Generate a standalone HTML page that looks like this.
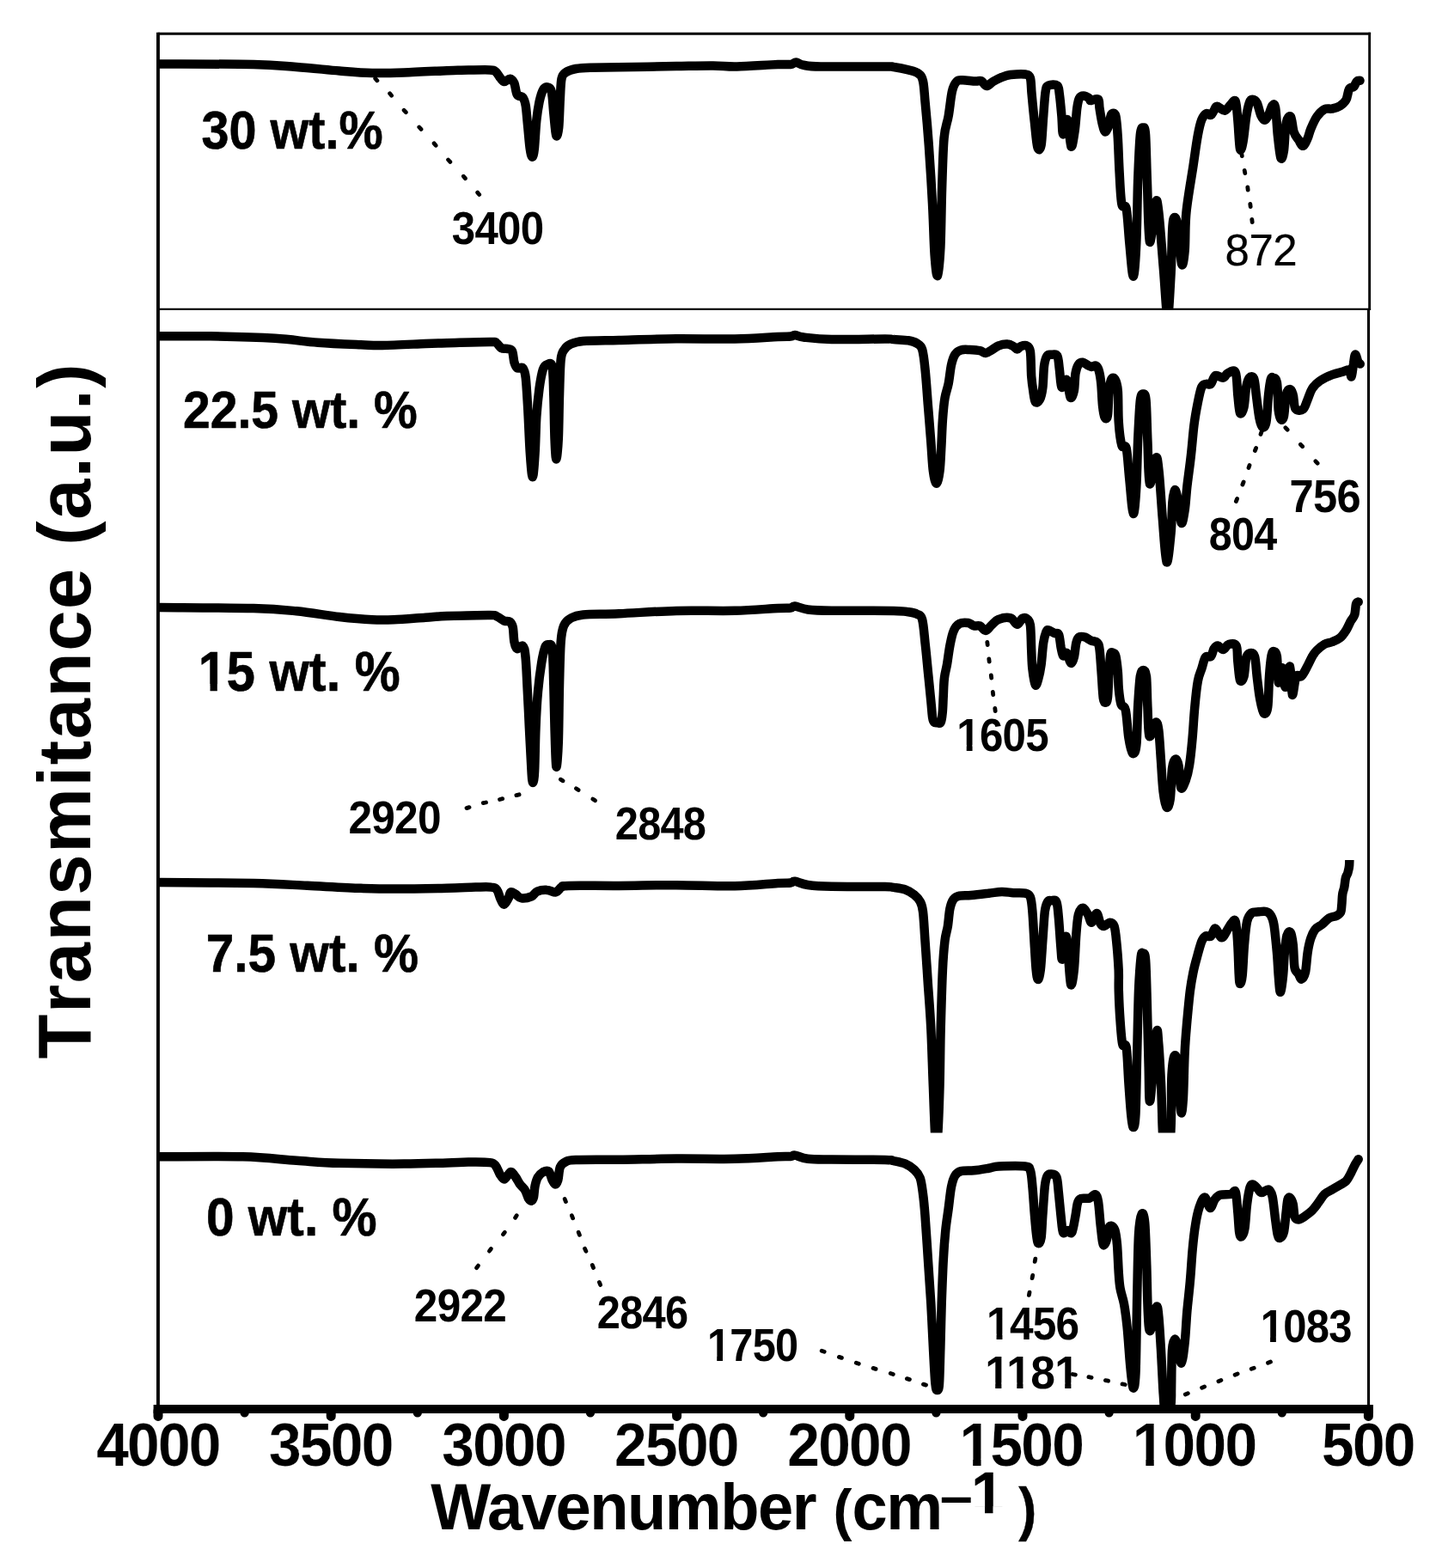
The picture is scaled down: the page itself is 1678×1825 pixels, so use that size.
<!DOCTYPE html>
<html lang="en"><head><meta charset="utf-8"><title>FTIR spectra</title>
<style>html,body{margin:0;padding:0;background:#fff}svg{display:block}text{font-family:"Liberation Sans",Arial,Helvetica,sans-serif;font-size:100px;fill:#000;white-space:pre}.b{font-weight:bold}</style></head><body>
<svg width="1678" height="1825" viewBox="0 0 1678 1825" role="img" aria-label="FTIR transmittance spectra for 0 to 30 wt.% samples">
<rect width="1678" height="1825" fill="#fff"/>
<defs>
<clipPath id="c1"><rect x="184" y="0" width="1678" height="359.5"/></clipPath>
<clipPath id="c2"><rect x="184" y="0" width="1678" height="1825"/></clipPath>
<clipPath id="c3"><rect x="184" y="0" width="1678" height="1825"/></clipPath>
<clipPath id="c4"><rect x="184" y="1001" width="1678" height="317.5999999999999"/></clipPath>
<clipPath id="c5"><rect x="184" y="0" width="1678" height="1638"/></clipPath>
</defs>
<g clip-path="url(#c1)"><path d="M186.0,74.5 C204.2,74.6 268.5,74.4 295.0,75.0 C321.5,75.6 328.3,76.8 345.0,78.0 C361.7,79.2 380.3,81.3 395.0,82.5 C409.7,83.7 420.5,84.7 433.0,85.0 C445.5,85.3 455.5,85.0 470.0,84.5 C484.5,84.0 508.9,82.7 520.0,82.2 C531.1,81.8 528.3,81.9 536.7,81.7 C545.0,81.6 563.4,81.1 570.1,81.4 C576.7,81.7 574.8,81.9 576.7,83.4 C578.7,84.8 580.1,88.1 581.7,90.1 C583.4,92.0 584.8,94.8 586.7,95.1 C588.7,95.3 591.5,91.5 593.4,91.7 C595.4,92.0 597.0,93.7 598.4,96.7 C599.8,99.8 600.1,107.3 601.8,110.1 C603.4,112.9 606.8,111.2 608.4,113.4 C610.1,115.6 610.8,117.6 611.8,123.4 C612.7,129.3 613.4,140.1 614.3,148.5 C615.1,156.8 615.9,167.8 616.8,173.5 C617.6,179.2 618.5,182.7 619.3,182.7 C620.1,182.7 621.0,180.6 621.8,173.5 C622.6,166.4 623.3,149.3 624.3,140.1 C625.3,130.9 626.4,124.3 627.6,118.4 C628.9,112.6 630.3,107.9 631.8,105.1 C633.3,102.2 635.1,101.1 636.8,101.4 C638.5,101.7 640.6,101.7 641.8,106.7 C643.1,111.8 643.4,123.3 644.3,131.8 C645.2,140.3 646.2,154.9 647.2,157.6 C648.1,160.4 649.4,155.6 650.2,148.5 C650.9,141.4 651.3,124.5 651.8,115.1 C652.4,105.6 652.4,96.9 653.5,91.7 C654.6,86.6 655.7,86.2 658.5,84.2 C661.3,82.3 665.5,81.0 670.2,80.0 C674.9,79.1 675.7,79.0 686.9,78.7 C698.0,78.4 720.2,78.3 736.9,78.0 C753.6,77.8 771.5,77.3 787.0,77.0 C802.5,76.8 818.2,76.4 830.0,76.5 C841.8,76.6 845.1,77.8 857.6,77.5 C870.1,77.2 894.6,75.4 905.0,75.0 C915.4,74.6 916.4,75.4 920.0,75.0 C923.6,74.6 923.9,72.4 926.4,72.5 C928.9,72.6 930.2,75.0 935.0,75.8 C939.8,76.6 939.2,77.2 955.0,77.5 C970.8,77.8 1015.8,77.4 1030.0,77.5 C1044.2,77.6 1035.5,77.4 1040.0,78.0 C1044.5,78.7 1052.2,80.2 1057.0,81.4 C1061.8,82.7 1066.1,83.6 1068.9,85.7 C1071.7,87.8 1072.7,88.8 1074.0,94.2 C1075.3,99.6 1075.4,105.5 1076.5,118.0 C1077.7,130.4 1079.4,149.1 1080.8,168.9 C1082.2,188.8 1083.9,215.7 1085.0,236.9 C1086.2,258.1 1086.6,282.3 1087.6,296.4 C1088.6,310.4 1089.8,322.4 1091.0,321.0 C1092.1,319.6 1093.5,304.7 1094.4,287.9 C1095.2,271.0 1095.4,241.1 1096.1,219.9 C1096.8,198.7 1097.3,174.6 1098.6,160.4 C1099.9,146.3 1102.2,144.0 1103.7,135.0 C1105.3,125.9 1106.4,112.7 1108.0,106.1 C1109.5,99.4 1111.1,97.1 1113.1,95.0 C1115.0,92.9 1116.2,93.4 1119.9,93.3 C1123.5,93.2 1131.5,94.4 1135.1,94.5 C1138.8,94.7 1139.8,93.2 1141.9,94.2 C1144.1,95.1 1145.6,100.0 1147.9,100.1 C1150.2,100.3 1152.6,96.7 1155.5,95.0 C1158.5,93.3 1162.3,91.3 1165.7,89.9 C1169.1,88.6 1171.4,87.6 1175.9,87.0 C1180.5,86.5 1189.1,85.9 1192.9,86.5 C1196.7,87.2 1197.6,87.0 1198.9,90.8 C1200.1,94.6 1199.7,100.7 1200.6,109.5 C1201.4,118.2 1202.8,133.1 1204.0,143.4 C1205.1,153.8 1206.1,167.2 1207.4,171.5 C1208.6,175.7 1210.5,175.0 1211.6,168.9 C1212.7,162.8 1213.3,145.4 1214.2,135.0 C1215.0,124.5 1215.7,112.0 1216.7,106.1 C1217.7,100.2 1217.8,100.7 1220.1,99.6 C1222.4,98.5 1228.2,98.0 1230.3,99.6 C1232.4,101.3 1232.0,103.6 1232.8,109.5 C1233.7,115.4 1234.7,127.2 1235.4,135.0 C1236.1,142.7 1236.0,155.5 1237.1,156.2 C1238.2,156.9 1240.6,136.8 1242.2,139.2 C1243.7,141.6 1245.0,168.5 1246.4,170.6 C1247.8,172.8 1249.5,159.3 1250.7,151.9 C1251.8,144.6 1252.4,132.7 1253.2,126.5 C1254.1,120.2 1254.5,117.1 1255.8,114.6 C1257.1,112.1 1258.9,111.5 1260.9,111.5 C1262.9,111.5 1266.3,113.6 1267.7,114.6 C1269.1,115.5 1267.7,117.0 1269.4,117.1 C1271.1,117.3 1276.2,113.9 1277.9,115.4 C1279.6,117.0 1278.7,121.5 1279.6,126.5 C1280.4,131.4 1281.8,140.6 1283.0,145.1 C1284.1,149.7 1285.1,153.6 1286.4,153.6 C1287.6,153.6 1289.5,148.5 1290.6,145.1 C1291.7,141.7 1291.9,135.0 1293.2,133.3 C1294.4,131.6 1297.0,130.4 1298.3,135.0 C1299.5,139.5 1300.1,149.3 1300.8,160.4 C1301.5,171.6 1301.9,189.1 1302.7,202.0 C1303.4,214.8 1304.0,230.9 1305.4,237.7 C1306.7,244.6 1309.2,235.6 1310.7,243.1 C1312.2,250.5 1313.0,269.3 1314.3,282.4 C1315.6,295.5 1317.4,321.8 1318.8,321.8 C1320.1,321.8 1321.5,300.9 1322.3,282.4 C1323.2,263.9 1323.4,231.8 1324.1,210.9 C1324.9,190.0 1325.8,167.6 1326.8,157.3 C1327.9,146.9 1329.4,148.7 1330.4,148.7 C1331.4,148.7 1332.3,146.9 1333.1,157.3 C1333.8,167.6 1334.1,190.2 1334.9,210.9 C1335.7,231.6 1336.3,277.4 1337.9,281.5 C1339.5,285.7 1343.0,241.7 1344.7,235.9 C1346.4,230.1 1346.8,234.4 1348.3,246.7 C1349.8,258.9 1351.9,289.0 1353.6,309.2 C1355.4,329.5 1357.2,366.7 1358.6,368.2 C1360.1,369.7 1361.6,335.5 1362.6,318.2 C1363.5,300.9 1363.6,275.4 1364.4,264.5 C1365.1,253.7 1366.0,252.9 1367.0,252.9 C1368.1,252.9 1369.3,255.5 1370.6,264.5 C1372.0,273.6 1373.7,303.0 1375.1,307.4 C1376.4,311.9 1377.8,301.5 1378.7,291.4 C1379.6,281.2 1378.8,263.1 1380.5,246.7 C1382.1,230.3 1386.3,207.9 1388.5,193.0 C1390.7,178.1 1392.2,166.2 1393.9,157.3 C1395.5,148.3 1396.7,143.6 1398.3,139.4 C1400.0,135.2 1401.9,133.1 1403.7,132.2 C1405.5,131.3 1407.6,134.6 1409.1,134.0 C1410.5,133.4 1411.4,130.4 1412.6,128.7 C1413.8,126.9 1414.1,123.7 1416.2,123.7 C1418.3,123.7 1422.5,129.0 1425.1,128.7 C1427.8,128.3 1430.2,123.3 1432.3,121.5 C1434.4,119.7 1436.3,115.0 1437.7,117.9 C1439.0,120.9 1439.5,130.2 1440.3,139.4 C1441.2,148.6 1442.0,169.2 1443.0,173.4 C1444.1,177.5 1445.4,170.7 1446.6,164.4 C1447.8,158.2 1449.0,143.3 1450.2,135.8 C1451.4,128.4 1452.6,123.1 1453.8,119.7 C1454.9,116.4 1455.8,115.8 1457.3,115.8 C1458.8,115.8 1461.1,116.7 1462.7,119.7 C1464.3,122.8 1465.7,130.7 1467.2,134.0 C1468.7,137.4 1470.1,139.7 1471.6,139.7 C1473.1,139.7 1474.6,136.8 1476.1,134.0 C1477.6,131.2 1479.2,124.4 1480.6,122.9 C1481.9,121.5 1483.1,119.4 1484.1,125.1 C1485.2,130.8 1485.8,147.5 1486.8,157.3 C1487.9,167.0 1489.2,180.8 1490.4,183.7 C1491.6,186.7 1492.9,181.9 1494.0,175.1 C1495.0,168.4 1495.3,149.5 1496.7,143.0 C1498.0,136.4 1500.5,134.0 1502.0,135.8 C1503.5,137.6 1504.1,149.2 1505.6,153.7 C1507.1,158.2 1509.2,160.0 1511.0,162.6 C1512.8,165.3 1514.5,170.1 1516.3,169.8 C1518.1,169.5 1520.2,164.1 1521.7,160.8 C1523.2,157.6 1523.5,154.3 1525.3,150.1 C1527.1,145.9 1529.7,139.6 1532.4,135.8 C1535.1,132.0 1538.4,128.8 1541.4,127.2 C1544.3,125.7 1547.3,127.2 1550.3,126.5 C1553.3,125.9 1556.6,125.0 1559.2,123.3 C1561.9,121.6 1564.6,119.4 1566.4,116.2 C1568.2,112.9 1568.5,106.2 1570.0,103.6 C1571.5,101.1 1573.8,102.4 1575.3,101.0 C1576.8,99.5 1577.7,95.9 1578.9,94.7 C1580.1,93.5 1581.9,94.0 1582.5,93.8" fill="none" stroke="#000" stroke-width="10.5" stroke-linejoin="round" stroke-linecap="round"/></g>
<g clip-path="url(#c2)"><path d="M186.0,391.3 C195.8,391.3 222.7,390.9 245.0,391.3 C267.3,391.7 299.2,392.6 320.0,393.8 C340.8,395.1 353.3,397.6 370.0,398.8 C386.7,400.1 407.5,400.8 420.0,401.3 C432.5,401.8 432.5,402.2 445.0,402.0 C457.5,401.8 482.5,400.5 495.0,400.0 C507.5,399.5 507.5,399.5 520.0,399.2 C532.5,398.9 560.5,398.0 570.1,398.0 C579.7,398.0 575.3,398.0 577.6,399.2 C579.8,400.4 581.3,403.9 583.4,405.1 C585.5,406.2 588.0,405.3 590.1,405.9 C592.2,406.4 594.5,405.7 595.9,408.4 C597.3,411.0 597.5,418.4 598.4,421.7 C599.4,425.1 600.1,427.3 601.8,428.4 C603.4,429.5 606.8,426.5 608.4,428.4 C610.1,430.4 610.8,432.0 611.8,440.1 C612.7,448.2 613.4,462.3 614.3,476.8 C615.1,491.3 615.9,513.8 616.8,526.9 C617.7,539.9 618.8,555.2 619.8,555.2 C620.8,555.2 621.9,538.5 622.6,526.9 C623.4,515.2 623.5,497.7 624.3,485.1 C625.1,472.6 626.4,461.0 627.6,451.8 C628.9,442.6 630.3,434.7 631.8,430.1 C633.3,425.5 635.0,424.8 636.8,424.2 C638.6,423.7 641.4,420.8 642.6,426.7 C643.9,432.7 643.8,446.2 644.3,460.1 C644.8,474.0 645.0,497.8 645.5,510.2 C646.0,522.6 646.6,534.4 647.3,534.4 C648.0,534.4 649.2,522.6 649.8,510.2 C650.4,497.8 650.5,475.4 651.0,460.1 C651.5,444.8 651.7,427.3 652.7,418.4 C653.6,409.5 655.0,409.6 656.8,406.7 C658.6,403.8 659.9,402.5 663.5,400.9 C667.1,399.3 669.1,397.9 678.5,397.0 C688.0,396.2 702.2,396.3 720.2,395.9 C738.3,395.4 764.5,394.4 787.0,394.2 C809.4,394.0 835.3,394.9 855.0,394.5 C874.7,394.1 894.2,392.5 905.0,392.0 C915.8,391.5 916.7,391.8 920.0,391.5 C923.3,391.2 922.5,389.8 925.0,390.0 C927.5,390.2 927.9,391.7 935.0,392.5 C942.1,393.3 951.9,394.7 967.7,395.0 C983.5,395.3 1018.0,394.5 1030.0,394.5 C1042.0,394.5 1035.5,394.8 1040.0,395.1 C1044.5,395.5 1052.5,395.6 1057.0,396.3 C1061.5,397.1 1064.5,398.0 1067.2,399.7 C1069.9,401.4 1071.6,401.6 1073.1,406.5 C1074.7,411.5 1075.4,418.6 1076.5,429.5 C1077.7,440.4 1078.8,457.8 1079.9,471.9 C1081.1,486.1 1082.3,501.7 1083.3,514.4 C1084.3,527.2 1084.8,540.3 1085.9,548.4 C1086.9,556.5 1088.5,562.8 1089.8,562.8 C1091.1,562.8 1092.6,555.1 1093.5,548.4 C1094.4,541.7 1094.7,532.8 1095.2,522.9 C1095.8,513.0 1096.2,498.8 1096.9,488.9 C1097.6,479.0 1098.3,470.5 1099.5,463.4 C1100.6,456.4 1102.4,453.0 1103.7,446.5 C1105.0,439.9 1105.8,430.0 1107.1,424.4 C1108.4,418.7 1109.5,415.3 1111.4,412.5 C1113.2,409.6 1115.3,408.3 1118.2,407.4 C1121.0,406.5 1124.7,406.9 1128.3,407.0 C1132.0,407.2 1137.1,407.5 1140.2,408.2 C1143.4,408.9 1144.8,411.3 1147.0,411.1 C1149.3,411.0 1151.3,408.9 1153.8,407.4 C1156.4,405.9 1159.2,403.4 1162.3,402.3 C1165.4,401.1 1169.7,400.4 1172.5,400.6 C1175.4,400.7 1177.5,402.1 1179.3,403.1 C1181.2,404.1 1182.2,406.5 1183.6,406.5 C1185.0,406.5 1186.0,403.8 1187.8,403.1 C1189.7,402.4 1192.8,401.3 1194.6,402.3 C1196.5,403.3 1197.9,403.1 1198.9,409.1 C1199.8,415.0 1199.7,430.3 1200.2,438.0 C1200.8,445.6 1201.5,450.0 1202.3,455.0 C1203.0,459.9 1203.5,466.0 1204.8,467.7 C1206.1,469.4 1208.5,467.8 1209.9,465.1 C1211.3,462.5 1212.5,458.1 1213.3,451.6 C1214.2,445.0 1214.2,432.3 1215.0,426.1 C1215.8,419.8 1217.0,416.4 1218.4,414.2 C1219.8,412.0 1221.5,412.8 1223.5,412.8 C1225.5,412.8 1228.7,411.4 1230.3,414.2 C1231.8,416.9 1232.0,423.4 1232.8,429.5 C1233.7,435.6 1234.0,448.6 1235.4,450.7 C1236.8,452.8 1239.6,440.2 1241.3,442.2 C1243.0,444.2 1244.2,460.5 1245.6,462.6 C1247.0,464.7 1248.8,459.6 1249.8,455.0 C1250.8,450.3 1250.7,439.7 1251.5,434.6 C1252.4,429.5 1253.5,426.5 1254.9,424.4 C1256.3,422.2 1258.2,421.7 1260.0,421.8 C1261.9,422.0 1264.3,424.4 1266.0,425.2 C1267.7,426.1 1268.7,426.8 1270.2,426.9 C1271.8,427.0 1273.9,425.0 1275.3,425.7 C1276.7,426.4 1277.7,427.7 1278.7,431.2 C1279.7,434.6 1280.6,439.7 1281.3,446.5 C1282.0,453.3 1282.3,465.4 1283.0,471.9 C1283.7,478.5 1284.5,483.6 1285.5,485.5 C1286.5,487.5 1288.1,488.9 1288.9,483.8 C1289.8,478.7 1289.9,462.0 1290.6,455.0 C1291.3,447.9 1292.0,443.6 1293.2,441.4 C1294.3,439.1 1296.1,439.1 1297.4,441.4 C1298.7,443.6 1300.1,446.6 1300.8,455.0 C1301.5,463.3 1301.0,481.0 1301.8,491.6 C1302.5,502.1 1303.9,513.3 1305.4,518.4 C1306.9,523.5 1309.2,515.4 1310.7,522.0 C1312.2,528.5 1313.0,545.1 1314.3,557.7 C1315.6,570.4 1317.4,596.5 1318.8,597.9 C1320.1,599.4 1321.5,580.8 1322.3,566.7 C1323.2,552.5 1323.4,529.7 1324.1,513.0 C1324.9,496.3 1325.8,475.6 1326.8,466.5 C1327.9,457.5 1329.3,458.5 1330.4,458.5 C1331.5,458.5 1332.8,457.5 1333.6,466.5 C1334.4,475.6 1334.7,496.9 1335.4,513.0 C1336.1,529.1 1336.3,559.8 1337.9,563.1 C1339.5,566.4 1343.3,535.1 1345.1,532.7 C1346.8,530.3 1347.3,537.2 1348.6,548.8 C1349.9,560.4 1351.3,584.8 1352.7,602.4 C1354.2,620.0 1355.9,651.3 1357.6,654.3 C1359.2,657.2 1361.4,631.9 1362.6,620.3 C1363.7,608.7 1363.6,592.9 1364.4,584.5 C1365.1,576.2 1366.0,570.8 1367.0,570.2 C1368.1,569.6 1369.3,574.6 1370.6,581.0 C1371.9,587.4 1373.4,606.6 1374.7,608.7 C1376.1,610.8 1377.6,600.5 1378.7,593.5 C1379.8,586.5 1380.2,577.1 1381.3,566.7 C1382.5,556.2 1384.5,542.8 1385.8,530.9 C1387.2,519.0 1388.1,505.6 1389.4,495.1 C1390.7,484.7 1392.4,475.8 1393.9,468.3 C1395.4,460.9 1396.7,454.0 1398.3,450.5 C1400.0,446.9 1401.9,447.5 1403.7,446.9 C1405.5,446.3 1407.3,448.5 1409.1,446.9 C1410.8,445.2 1412.0,438.2 1414.4,437.0 C1416.8,435.9 1421.0,440.2 1423.4,439.7 C1425.7,439.3 1426.3,435.4 1428.7,434.4 C1431.1,433.3 1435.7,429.3 1437.7,433.5 C1439.6,437.6 1439.5,451.5 1440.3,459.4 C1441.2,467.3 1441.8,478.5 1443.0,480.8 C1444.2,483.2 1446.3,478.8 1447.5,473.7 C1448.7,468.6 1449.1,456.1 1450.2,450.5 C1451.2,444.8 1452.3,441.4 1453.8,439.7 C1455.2,438.1 1457.8,437.3 1459.1,440.6 C1460.5,443.9 1460.8,451.8 1461.8,459.4 C1462.8,467.0 1464.2,480.0 1465.4,486.2 C1466.6,492.5 1467.6,496.0 1469.0,496.9 C1470.3,497.8 1472.2,497.8 1473.4,491.6 C1474.6,485.3 1475.2,467.7 1476.1,459.4 C1477.0,451.0 1477.9,444.8 1478.8,441.5 C1479.7,438.2 1480.3,439.1 1481.5,439.7 C1482.7,440.3 1484.9,438.8 1485.9,445.1 C1487.0,451.3 1487.0,470.1 1487.7,477.3 C1488.5,484.4 1489.4,486.8 1490.4,488.0 C1491.4,489.2 1492.9,489.2 1494.0,484.4 C1495.0,479.7 1495.5,464.6 1496.7,459.4 C1497.9,454.2 1499.8,453.1 1501.1,453.1 C1502.5,453.1 1503.7,455.7 1504.7,459.4 C1505.8,463.1 1505.5,472.7 1507.4,475.5 C1509.3,478.3 1513.9,478.2 1516.3,476.4 C1518.7,474.6 1519.9,468.8 1521.7,464.8 C1523.5,460.7 1524.7,455.8 1527.1,452.2 C1529.4,448.7 1532.1,446.0 1536.0,443.3 C1539.9,440.6 1545.8,437.9 1550.3,436.2 C1554.8,434.4 1559.5,433.5 1562.8,432.6 C1566.1,431.7 1568.3,429.8 1570.0,430.8 C1571.6,431.7 1571.8,439.5 1572.6,438.3 C1573.5,437.1 1574.2,427.9 1575.0,423.6 C1575.7,419.3 1576.2,413.0 1577.1,412.6 C1578.0,412.1 1579.4,419.1 1580.3,421.0 C1581.3,422.8 1582.4,423.2 1582.8,423.6" fill="none" stroke="#000" stroke-width="10.5" stroke-linejoin="round" stroke-linecap="round"/></g>
<g clip-path="url(#c3)"><path d="M186.0,707.0 C204.2,707.2 268.5,707.3 295.0,708.0 C321.5,708.7 328.3,709.6 345.0,711.3 C361.7,713.0 380.3,716.3 395.0,718.0 C409.7,719.7 422.5,720.8 433.0,721.3 C443.5,721.8 447.7,721.7 458.0,721.3 C468.3,720.9 484.7,719.5 495.0,718.8 C505.3,718.1 507.5,717.5 520.0,717.0 C532.5,716.6 560.3,715.8 570.1,715.9 C579.8,716.0 575.6,716.4 578.4,717.5 C581.2,718.7 584.2,721.5 586.7,722.6 C589.2,723.6 591.8,722.5 593.4,723.7 C595.1,725.0 595.9,726.2 596.8,730.1 C597.6,733.9 597.6,742.6 598.4,746.7 C599.3,750.9 600.1,754.3 601.8,755.1 C603.4,755.9 606.8,750.4 608.4,751.8 C610.1,753.1 610.6,755.9 611.4,763.4 C612.3,770.9 612.7,782.9 613.4,796.8 C614.2,810.7 615.1,830.2 615.9,846.9 C616.8,863.6 617.8,886.2 618.5,896.9 C619.1,907.6 619.5,911.1 620.1,911.1 C620.7,911.1 621.6,907.6 622.1,896.9 C622.7,886.2 622.8,862.2 623.5,846.9 C624.1,831.6 624.8,817.7 626.0,805.1 C627.1,792.6 628.7,780.4 630.1,771.8 C631.5,763.2 633.0,757.0 634.3,753.4 C635.6,749.9 636.8,750.1 638.1,750.4 C639.5,750.7 641.6,747.4 642.6,755.1 C643.7,762.8 643.8,781.5 644.3,796.8 C644.8,812.1 645.0,831.0 645.5,846.9 C646.0,862.8 646.6,889.5 647.3,892.3 C648.0,895.0 649.2,879.5 649.8,863.6 C650.4,847.6 650.5,816.3 651.0,796.8 C651.5,777.3 651.8,758.1 652.7,746.7 C653.5,735.3 654.2,732.8 656.0,728.4 C657.8,723.9 659.7,722.2 663.5,720.0 C667.3,717.9 669.1,716.3 678.5,715.4 C688.0,714.4 702.2,715.0 720.2,714.2 C738.3,713.5 764.5,711.4 787.0,710.9 C809.4,710.3 835.3,711.3 855.0,710.8 C874.7,710.3 894.2,708.5 905.0,708.0 C915.8,707.5 916.7,707.9 920.0,707.5 C923.3,707.1 921.7,705.2 925.0,705.5 C928.3,705.8 932.9,708.6 940.0,709.5 C947.1,710.4 951.0,710.6 967.7,710.8 C984.4,711.0 1025.1,710.7 1040.0,710.9 C1054.9,711.2 1052.5,711.6 1057.0,712.3 C1061.5,712.9 1064.5,713.4 1067.2,714.8 C1069.9,716.2 1071.6,715.3 1073.1,720.8 C1074.7,726.3 1075.4,737.8 1076.5,748.0 C1077.7,758.2 1078.8,770.6 1079.9,781.9 C1081.1,793.3 1082.4,807.0 1083.3,815.9 C1084.2,824.8 1084.5,831.3 1085.2,835.5 C1085.8,839.6 1086.3,839.8 1087.2,840.7 C1088.2,841.7 1089.7,841.2 1091.0,841.2 C1092.2,841.2 1093.7,842.7 1094.7,840.7 C1095.7,838.8 1096.2,834.8 1096.7,829.5 C1097.3,824.2 1097.4,815.9 1097.8,809.1 C1098.1,802.3 1098.2,794.7 1099.0,788.7 C1099.7,782.8 1100.9,779.7 1102.0,773.4 C1103.1,767.2 1104.1,757.9 1105.4,751.4 C1106.7,744.8 1107.8,738.6 1109.7,734.4 C1111.5,730.1 1113.6,727.4 1116.5,725.9 C1119.3,724.3 1123.8,724.6 1126.7,725.0 C1129.5,725.4 1131.2,727.9 1133.4,728.4 C1135.7,729.0 1138.0,727.5 1140.2,728.4 C1142.5,729.4 1144.8,734.2 1147.0,734.0 C1149.3,733.9 1151.3,729.8 1153.8,727.6 C1156.4,725.4 1158.6,722.1 1162.3,720.8 C1166.0,719.4 1172.4,718.4 1175.9,719.4 C1179.5,720.4 1181.3,726.6 1183.6,726.7 C1185.8,726.8 1187.7,721.1 1189.5,719.9 C1191.4,718.8 1193.1,718.7 1194.6,719.9 C1196.2,721.2 1197.9,721.5 1198.9,727.6 C1199.8,733.7 1199.8,748.0 1200.2,756.5 C1200.6,765.0 1200.6,771.7 1201.4,778.5 C1202.2,785.3 1203.7,795.3 1204.8,797.2 C1205.9,799.2 1207.1,794.4 1208.2,790.4 C1209.3,786.5 1210.6,780.5 1211.6,773.4 C1212.6,766.4 1213.2,754.3 1214.2,748.0 C1215.1,741.6 1216.6,737.6 1217.5,735.2 C1218.5,732.8 1218.5,733.2 1220.1,733.5 C1221.7,733.8 1224.9,736.1 1226.9,736.9 C1228.9,737.8 1230.7,735.9 1232.0,738.6 C1233.3,741.3 1233.7,749.0 1234.5,753.1 C1235.4,757.2 1236.0,762.1 1237.1,763.3 C1238.2,764.4 1239.9,758.4 1241.3,759.9 C1242.8,761.3 1244.5,770.9 1245.9,771.7 C1247.3,772.6 1248.8,768.9 1249.8,765.0 C1250.9,761.0 1251.4,751.9 1252.4,748.0 C1253.4,744.1 1254.1,742.6 1255.8,741.5 C1257.5,740.4 1260.3,740.9 1262.6,741.5 C1264.8,742.2 1267.0,744.3 1269.4,745.4 C1271.8,746.5 1275.3,746.1 1277.0,748.0 C1278.7,749.8 1278.8,750.8 1279.6,756.5 C1280.3,762.1 1280.9,772.6 1281.6,781.9 C1282.3,791.3 1283.0,806.6 1283.8,812.5 C1284.6,818.5 1285.5,817.6 1286.4,817.6 C1287.2,817.6 1288.2,818.5 1288.9,812.5 C1289.6,806.6 1290.0,790.4 1290.6,781.9 C1291.2,773.4 1291.6,765.2 1292.3,761.6 C1293.0,757.9 1293.9,759.6 1294.9,759.9 C1295.8,760.1 1297.3,759.6 1298.3,763.3 C1299.2,766.9 1300.2,775.6 1300.8,781.9 C1301.4,788.3 1301.2,795.3 1301.8,801.6 C1302.4,807.8 1303.1,815.3 1304.5,819.5 C1305.8,823.6 1308.3,820.0 1309.8,826.6 C1311.3,833.2 1312.1,850.4 1313.4,858.8 C1314.7,867.1 1316.4,875.2 1317.9,876.7 C1319.4,878.2 1321.3,876.7 1322.3,867.7 C1323.4,858.8 1323.4,836.4 1324.1,823.0 C1324.9,809.6 1325.8,794.4 1326.8,787.3 C1327.9,780.1 1329.2,780.1 1330.4,780.1 C1331.6,780.1 1333.1,780.1 1334.0,787.3 C1334.8,794.4 1334.8,811.4 1335.4,823.0 C1336.0,834.6 1336.0,854.0 1337.5,857.0 C1339.1,860.0 1342.9,842.1 1344.7,840.9 C1346.5,839.7 1347.2,842.4 1348.3,849.8 C1349.3,857.3 1350.1,873.7 1351.0,885.6 C1351.8,897.5 1352.5,912.4 1353.6,921.4 C1354.7,930.4 1356.2,938.1 1357.6,939.6 C1358.9,941.1 1360.6,937.8 1361.7,930.3 C1362.8,922.8 1363.0,902.3 1364.0,894.5 C1365.0,886.8 1366.3,884.4 1367.6,883.8 C1368.8,883.2 1370.4,885.5 1371.5,891.0 C1372.6,896.5 1372.9,913.9 1374.2,916.9 C1375.5,919.9 1377.9,913.2 1379.6,908.8 C1381.2,904.5 1382.7,899.3 1384.0,891.0 C1385.4,882.6 1386.6,870.1 1387.6,858.8 C1388.6,847.5 1389.2,834.1 1390.3,823.0 C1391.3,812.0 1392.5,800.1 1393.9,792.6 C1395.2,785.2 1396.8,782.9 1398.3,778.3 C1399.8,773.7 1401.0,767.3 1402.8,764.9 C1404.6,762.5 1407.4,765.7 1409.1,764.0 C1410.7,762.4 1411.3,757.2 1412.6,755.1 C1414.0,753.0 1415.3,751.4 1417.1,751.5 C1418.9,751.7 1421.3,756.2 1423.4,756.0 C1425.4,755.7 1427.1,750.8 1429.6,750.1 C1432.2,749.3 1436.8,748.3 1438.6,751.5 C1440.3,754.7 1439.6,762.7 1440.3,769.4 C1441.1,776.1 1441.8,788.8 1443.0,791.7 C1444.2,794.7 1446.3,791.6 1447.5,787.3 C1448.7,782.9 1449.0,770.3 1450.2,765.8 C1451.4,761.3 1453.0,760.4 1454.6,760.1 C1456.3,759.8 1458.7,759.5 1460.0,764.0 C1461.4,768.6 1461.7,778.9 1462.7,787.3 C1463.7,795.6 1464.9,806.9 1466.3,814.1 C1467.6,821.2 1469.2,828.7 1470.7,830.2 C1472.2,831.7 1474.2,830.2 1475.2,823.0 C1476.3,815.9 1476.3,797.4 1477.0,787.3 C1477.7,777.1 1478.7,767.1 1479.7,762.2 C1480.6,757.4 1481.7,758.0 1482.7,758.3 C1483.8,758.6 1485.1,758.0 1485.9,764.0 C1486.8,770.0 1486.7,792.2 1487.7,794.4 C1488.8,796.7 1490.9,776.5 1492.2,777.4 C1493.5,778.3 1494.3,800.1 1495.8,799.8 C1497.3,799.5 1499.8,774.2 1501.1,775.6 C1502.5,777.1 1502.6,806.8 1503.8,808.7 C1505.0,810.7 1506.5,790.9 1508.3,787.3 C1510.1,783.6 1512.3,789.0 1514.5,786.9 C1516.8,784.8 1519.6,778.6 1521.7,774.8 C1523.8,770.9 1525.3,767.0 1527.1,764.0 C1528.8,761.0 1530.0,759.3 1532.4,756.9 C1534.8,754.5 1538.4,751.4 1541.4,749.7 C1544.3,748.1 1547.3,748.2 1550.3,747.0 C1553.3,745.9 1556.6,744.8 1559.2,742.6 C1561.9,740.3 1564.3,736.9 1566.4,733.6 C1568.5,730.4 1570.1,725.9 1571.8,722.9 C1573.4,719.9 1575.2,719.0 1576.2,715.8 C1577.3,712.5 1577.3,705.8 1578.0,703.2 C1578.8,700.7 1580.2,701.0 1580.7,700.6" fill="none" stroke="#000" stroke-width="10.5" stroke-linejoin="round" stroke-linecap="round"/></g>
<g clip-path="url(#c4)"><path d="M186.0,1027.0 C204.2,1027.2 266.4,1027.4 295.0,1028.0 C323.6,1028.6 336.9,1029.8 357.7,1030.8 C378.5,1031.8 403.3,1033.2 420.0,1033.8 C436.7,1034.4 441.3,1034.6 458.0,1034.6 C474.7,1034.6 504.1,1034.1 520.0,1033.7 C535.9,1033.4 544.8,1032.7 553.4,1032.6 C562.0,1032.4 567.6,1032.0 571.7,1032.6 C575.9,1033.1 576.6,1033.5 578.4,1035.9 C580.2,1038.3 581.2,1044.0 582.6,1046.7 C584.0,1049.5 585.2,1052.9 586.7,1052.6 C588.3,1052.3 590.5,1047.4 591.8,1045.1 C593.0,1042.7 592.9,1039.1 594.3,1038.4 C595.6,1037.7 598.0,1039.7 600.1,1040.9 C602.2,1042.1 603.7,1045.0 606.8,1045.4 C609.8,1045.8 615.4,1044.7 618.5,1043.4 C621.5,1042.1 622.1,1038.8 625.1,1037.6 C628.2,1036.3 633.2,1035.7 636.8,1035.9 C640.4,1036.0 644.0,1038.9 646.8,1038.4 C649.6,1037.8 651.0,1033.8 653.5,1032.6 C656.0,1031.3 650.7,1031.2 661.8,1030.9 C673.0,1030.6 699.4,1031.0 720.2,1030.9 C741.1,1030.8 764.5,1030.1 787.0,1030.2 C809.4,1030.3 835.3,1031.7 855.0,1031.3 C874.7,1030.9 894.2,1028.6 905.0,1028.0 C915.8,1027.4 916.7,1027.9 920.0,1027.5 C923.3,1027.1 921.7,1025.4 925.0,1025.8 C928.3,1026.2 932.9,1029.0 940.0,1030.0 C947.1,1031.0 952.7,1031.5 967.7,1031.8 C982.7,1032.1 1018.0,1031.8 1030.0,1032.0 C1042.0,1032.2 1036.1,1032.4 1040.0,1032.9 C1043.9,1033.5 1049.6,1034.1 1053.6,1035.5 C1057.6,1036.9 1061.0,1039.2 1063.8,1041.4 C1066.6,1043.7 1068.9,1045.8 1070.6,1049.1 C1072.3,1052.3 1073.0,1053.3 1074.0,1061.0 C1075.0,1068.6 1075.5,1080.8 1076.5,1095.0 C1077.5,1109.1 1078.8,1128.9 1079.9,1145.9 C1081.1,1162.9 1082.3,1177.1 1083.3,1196.9 C1084.3,1216.7 1085.0,1243.6 1085.9,1264.9 C1086.7,1286.1 1087.6,1314.4 1088.4,1324.3 C1089.3,1334.2 1090.1,1334.2 1091.0,1324.3 C1091.8,1314.4 1092.9,1286.1 1093.5,1264.9 C1094.1,1243.6 1094.1,1219.5 1094.7,1196.9 C1095.3,1174.2 1096.1,1145.9 1096.9,1128.9 C1097.7,1111.9 1098.5,1103.4 1099.5,1095.0 C1100.5,1086.5 1101.9,1084.2 1102.9,1078.0 C1103.9,1071.7 1104.3,1062.8 1105.4,1057.6 C1106.5,1052.3 1107.8,1049.0 1109.7,1046.5 C1111.5,1044.0 1113.1,1043.4 1116.5,1042.6 C1119.9,1041.9 1124.4,1042.4 1130.0,1041.9 C1135.7,1041.5 1144.5,1040.4 1150.4,1039.7 C1156.4,1039.1 1160.9,1038.1 1165.7,1038.0 C1170.5,1037.9 1174.8,1038.9 1179.3,1039.2 C1183.9,1039.5 1189.7,1038.9 1192.9,1039.7 C1196.2,1040.5 1197.4,1040.4 1198.9,1044.0 C1200.3,1047.5 1200.6,1051.1 1201.4,1061.0 C1202.3,1070.9 1203.2,1092.1 1204.0,1103.4 C1204.7,1114.8 1205.0,1122.8 1205.7,1128.9 C1206.3,1135.0 1207.0,1140.0 1207.9,1140.0 C1208.7,1140.0 1209.8,1136.4 1210.8,1128.9 C1211.7,1121.4 1212.5,1106.3 1213.3,1095.0 C1214.2,1083.6 1214.9,1068.6 1215.8,1061.0 C1216.8,1053.4 1218.0,1051.5 1219.2,1049.4 C1220.5,1047.3 1221.8,1048.1 1223.5,1048.2 C1225.2,1048.3 1228.0,1046.4 1229.4,1049.9 C1230.9,1053.5 1231.1,1060.5 1232.0,1069.5 C1232.8,1078.4 1233.8,1095.7 1234.5,1103.4 C1235.2,1111.2 1235.2,1118.5 1236.2,1116.2 C1237.2,1113.9 1239.4,1090.6 1240.5,1089.9 C1241.6,1089.1 1242.1,1102.6 1243.0,1111.9 C1244.0,1121.3 1245.0,1143.1 1246.1,1145.9 C1247.2,1148.8 1248.8,1138.8 1249.8,1128.9 C1250.9,1119.0 1251.5,1097.2 1252.4,1086.5 C1253.2,1075.7 1253.7,1069.3 1254.9,1064.4 C1256.2,1059.4 1258.2,1056.7 1260.0,1056.7 C1261.9,1056.7 1264.3,1061.5 1266.0,1064.4 C1267.7,1067.2 1268.5,1073.9 1270.2,1073.7 C1271.9,1073.5 1274.5,1062.9 1276.2,1063.0 C1277.9,1063.2 1279.0,1072.1 1280.4,1074.6 C1281.8,1077.1 1282.8,1078.1 1284.7,1078.0 C1286.5,1077.8 1289.5,1073.7 1291.5,1073.7 C1293.4,1073.7 1295.3,1074.4 1296.6,1078.0 C1297.8,1081.5 1298.3,1086.5 1299.1,1095.0 C1300.0,1103.4 1301.2,1119.3 1301.7,1128.9 C1302.1,1138.6 1301.5,1143.1 1301.8,1153.0 C1302.1,1163.0 1302.8,1178.4 1303.6,1188.8 C1304.3,1199.2 1305.1,1210.5 1306.3,1215.6 C1307.4,1220.7 1309.5,1211.7 1310.7,1219.2 C1311.9,1226.6 1312.5,1247.5 1313.4,1260.3 C1314.3,1273.1 1315.2,1287.4 1316.1,1296.1 C1317.0,1304.7 1317.9,1312.1 1318.8,1312.1 C1319.7,1312.1 1320.7,1310.7 1321.5,1296.1 C1322.2,1281.5 1322.6,1248.4 1323.2,1224.5 C1323.8,1200.7 1324.3,1171.5 1325.0,1153.0 C1325.8,1134.6 1326.9,1120.9 1327.7,1113.7 C1328.5,1106.5 1329.1,1109.2 1330.0,1109.8 C1330.9,1110.4 1332.3,1107.1 1333.1,1117.3 C1333.9,1127.5 1334.3,1150.0 1334.9,1170.9 C1335.5,1191.8 1336.1,1224.1 1336.7,1242.4 C1337.2,1260.7 1336.9,1287.4 1338.4,1280.9 C1339.9,1274.3 1344.0,1214.0 1345.6,1203.1 C1347.2,1192.2 1347.4,1206.1 1348.3,1215.6 C1349.2,1225.1 1350.3,1247.1 1351.0,1260.3 C1351.6,1273.5 1351.9,1285.2 1352.2,1295.0 C1352.5,1304.7 1352.1,1301.3 1353.0,1318.8 C1353.9,1336.3 1355.9,1399.9 1357.5,1399.9 C1359.0,1399.9 1361.4,1337.1 1362.3,1318.8 C1363.2,1300.4 1362.8,1301.2 1363.0,1290.0 C1363.2,1278.7 1362.9,1261.5 1363.5,1251.4 C1364.1,1241.2 1365.4,1231.1 1366.5,1229.0 C1367.6,1226.9 1368.8,1228.1 1370.1,1238.8 C1371.4,1249.6 1373.1,1286.8 1374.2,1293.4 C1375.3,1299.9 1376.1,1289.6 1376.9,1278.2 C1377.6,1266.7 1377.9,1239.4 1378.7,1224.5 C1379.4,1209.6 1380.3,1200.7 1381.3,1188.8 C1382.4,1176.9 1383.7,1162.6 1384.9,1153.0 C1386.1,1143.5 1387.2,1138.1 1388.5,1131.6 C1389.8,1125.0 1391.3,1119.7 1393.0,1113.7 C1394.6,1107.7 1396.7,1099.8 1398.3,1095.8 C1400.0,1091.8 1401.0,1090.6 1402.8,1089.6 C1404.6,1088.5 1407.1,1091.0 1409.1,1089.6 C1411.0,1088.1 1412.3,1080.3 1414.4,1080.6 C1416.5,1080.9 1419.2,1091.2 1421.6,1091.3 C1424.0,1091.5 1426.8,1084.3 1428.7,1081.5 C1430.7,1078.7 1431.7,1075.9 1433.2,1074.4 C1434.7,1072.9 1436.5,1068.4 1437.7,1072.6 C1438.9,1076.7 1439.7,1089.0 1440.3,1099.4 C1441.0,1109.8 1441.3,1127.6 1441.8,1135.1 C1442.2,1142.7 1442.4,1145.0 1443.0,1145.0 C1443.7,1145.0 1444.9,1142.7 1445.7,1135.1 C1446.5,1127.6 1447.1,1109.8 1448.0,1099.4 C1448.9,1089.0 1449.7,1078.7 1451.1,1072.6 C1452.5,1066.5 1454.2,1064.6 1456.4,1062.7 C1458.7,1060.9 1461.7,1061.6 1464.5,1061.3 C1467.3,1061.0 1471.0,1060.3 1473.4,1061.0 C1475.8,1061.6 1477.3,1062.9 1478.8,1065.4 C1480.3,1068.0 1481.2,1069.0 1482.4,1076.2 C1483.6,1083.3 1485.0,1098.5 1485.9,1108.3 C1486.8,1118.2 1487.1,1127.4 1487.7,1135.1 C1488.4,1142.9 1489.0,1154.8 1489.9,1154.8 C1490.8,1154.8 1492.3,1142.9 1493.1,1135.1 C1493.9,1127.4 1494.1,1116.1 1494.9,1108.3 C1495.6,1100.6 1496.4,1092.5 1497.6,1088.7 C1498.7,1084.8 1500.5,1083.3 1501.7,1085.1 C1502.9,1086.9 1503.9,1092.5 1504.7,1099.4 C1505.5,1106.2 1505.5,1120.5 1506.5,1126.2 C1507.5,1131.9 1509.6,1131.1 1511.0,1133.4 C1512.3,1135.6 1513.2,1139.9 1514.5,1139.6 C1515.9,1139.3 1517.8,1136.8 1519.0,1131.6 C1520.2,1126.4 1520.6,1114.9 1521.7,1108.3 C1522.7,1101.8 1523.8,1096.7 1525.3,1092.2 C1526.8,1087.8 1528.4,1084.2 1530.6,1081.5 C1532.8,1078.8 1535.7,1078.2 1538.4,1076.0 C1541.1,1073.8 1543.9,1070.1 1546.7,1068.4 C1549.5,1066.7 1552.9,1067.1 1555.1,1066.0 C1557.3,1064.9 1559.1,1063.9 1560.1,1061.8 C1561.1,1059.7 1560.9,1056.9 1561.3,1053.4 C1561.7,1049.9 1561.7,1044.4 1562.2,1040.9 C1562.7,1037.4 1563.7,1035.8 1564.3,1032.6 C1564.9,1029.4 1565.2,1024.5 1565.9,1021.7 C1566.6,1018.9 1567.7,1018.3 1568.4,1015.9 C1569.1,1013.5 1569.8,1011.0 1570.1,1007.5 C1570.4,1004.0 1570.4,997.1 1570.5,995.0" fill="none" stroke="#000" stroke-width="10.5" stroke-linejoin="round" stroke-linecap="round"/></g>
<g clip-path="url(#c5)"><path d="M186.0,1346.3 C202.1,1346.3 256.1,1345.5 282.6,1346.3 C309.1,1347.0 326.3,1349.5 345.0,1350.8 C363.7,1352.0 374.2,1353.2 395.0,1353.8 C415.8,1354.4 449.2,1354.7 470.0,1354.6 C490.8,1354.5 507.5,1353.7 520.0,1353.4 C532.5,1353.1 536.7,1352.6 545.0,1352.6 C553.4,1352.5 564.8,1352.4 570.1,1353.1 C575.3,1353.8 574.8,1354.5 576.7,1356.7 C578.7,1359.0 580.1,1364.1 581.7,1366.7 C583.4,1369.4 585.1,1372.6 586.7,1372.6 C588.4,1372.6 590.4,1368.1 591.8,1366.7 C593.1,1365.4 593.7,1363.7 595.1,1364.2 C596.5,1364.8 598.4,1367.7 600.1,1370.1 C601.8,1372.4 603.3,1375.9 605.1,1378.4 C606.9,1380.9 609.3,1382.3 610.9,1385.1 C612.6,1387.9 613.9,1393.0 615.1,1395.1 C616.4,1397.2 617.5,1397.9 618.5,1397.6 C619.4,1397.3 620.3,1396.4 621.0,1393.4 C621.6,1390.5 621.8,1384.0 622.6,1380.1 C623.5,1376.2 624.4,1372.7 626.0,1370.1 C627.5,1367.4 629.7,1365.4 631.8,1364.2 C633.9,1363.1 636.7,1361.9 638.5,1363.4 C640.3,1364.9 641.4,1370.9 642.6,1373.4 C643.9,1375.9 644.9,1378.4 646.0,1378.4 C647.1,1378.4 648.3,1376.8 649.3,1373.4 C650.3,1370.1 650.3,1362.0 651.8,1358.4 C653.4,1354.8 655.4,1353.5 658.5,1352.1 C661.6,1350.7 659.9,1350.4 670.2,1350.1 C680.5,1349.7 700.8,1350.0 720.2,1349.7 C739.7,1349.5 764.5,1348.7 787.0,1348.6 C809.4,1348.4 835.3,1349.2 855.0,1348.8 C874.7,1348.4 894.2,1346.8 905.0,1346.3 C915.8,1345.8 916.7,1346.3 920.0,1346.0 C923.3,1345.7 921.7,1344.1 925.0,1344.6 C928.3,1345.1 932.9,1348.0 940.0,1348.8 C947.1,1349.6 952.7,1349.4 967.7,1349.6 C982.7,1349.8 1018.0,1349.7 1030.0,1350.0 C1042.0,1350.3 1036.1,1350.5 1040.0,1351.2 C1043.9,1352.0 1049.6,1352.9 1053.6,1354.6 C1057.6,1356.3 1061.0,1358.7 1063.8,1361.4 C1066.6,1364.1 1068.9,1366.1 1070.6,1370.8 C1072.3,1375.4 1073.0,1382.1 1074.0,1389.5 C1075.0,1396.8 1075.5,1402.2 1076.5,1415.0 C1077.5,1427.7 1078.8,1448.9 1079.9,1465.9 C1081.1,1482.9 1082.3,1499.9 1083.3,1516.9 C1084.3,1533.9 1085.0,1552.3 1085.9,1567.9 C1086.7,1583.4 1087.6,1602.0 1088.4,1610.3 C1089.2,1618.7 1089.9,1618.0 1090.6,1618.0 C1091.4,1618.0 1092.4,1618.7 1093.0,1610.3 C1093.6,1602.0 1093.9,1583.4 1094.4,1567.9 C1094.8,1552.3 1095.2,1533.9 1095.7,1516.9 C1096.3,1499.9 1097.0,1480.1 1097.8,1465.9 C1098.5,1451.8 1099.3,1441.9 1100.3,1431.9 C1101.3,1422.0 1102.6,1415.0 1103.7,1406.5 C1104.8,1398.0 1105.8,1387.3 1107.1,1381.0 C1108.4,1374.6 1109.5,1371.2 1111.4,1368.2 C1113.2,1365.3 1114.5,1364.1 1118.2,1363.1 C1121.8,1362.1 1128.1,1362.8 1133.4,1362.3 C1138.8,1361.7 1145.6,1360.5 1150.4,1359.7 C1155.3,1358.9 1155.3,1357.9 1162.3,1357.5 C1169.4,1357.2 1186.8,1356.7 1192.9,1357.5 C1199.0,1358.3 1197.4,1358.4 1198.9,1362.3 C1200.3,1366.2 1200.6,1372.2 1201.4,1381.0 C1202.3,1389.7 1203.1,1405.0 1204.0,1415.0 C1204.8,1424.9 1205.7,1435.1 1206.5,1440.4 C1207.3,1445.8 1207.7,1447.2 1208.5,1447.2 C1209.4,1447.2 1210.8,1445.8 1211.6,1440.4 C1212.4,1435.1 1212.6,1424.9 1213.3,1415.0 C1214.0,1405.0 1215.0,1388.6 1215.8,1381.0 C1216.7,1373.3 1217.3,1371.5 1218.4,1369.1 C1219.5,1366.7 1220.8,1366.4 1222.6,1366.5 C1224.5,1366.7 1227.9,1366.1 1229.4,1369.9 C1231.0,1373.8 1231.1,1382.0 1232.0,1389.5 C1232.8,1397.0 1233.7,1407.4 1234.5,1415.0 C1235.4,1422.5 1235.8,1431.7 1237.1,1434.5 C1238.4,1437.3 1240.5,1431.9 1242.2,1431.9 C1243.9,1431.9 1245.7,1437.3 1247.3,1434.5 C1248.8,1431.7 1250.4,1420.8 1251.5,1415.0 C1252.7,1409.1 1252.9,1403.0 1254.1,1399.7 C1255.2,1396.3 1256.1,1395.8 1258.3,1394.9 C1260.6,1394.1 1265.0,1395.3 1267.7,1394.6 C1270.4,1393.8 1272.8,1389.7 1274.5,1390.3 C1276.2,1390.9 1276.9,1392.4 1277.9,1398.0 C1278.9,1403.5 1279.6,1415.5 1280.4,1423.4 C1281.3,1431.4 1282.2,1441.3 1283.0,1445.5 C1283.7,1449.8 1284.2,1449.5 1285.0,1448.9 C1285.8,1448.4 1287.3,1445.3 1288.1,1442.1 C1288.9,1439.0 1288.9,1432.8 1289.8,1430.2 C1290.6,1427.7 1291.9,1426.6 1293.2,1426.8 C1294.4,1427.1 1296.3,1428.3 1297.4,1431.9 C1298.5,1435.6 1299.2,1440.6 1300.0,1448.9 C1300.7,1457.3 1301.2,1473.5 1301.8,1482.0 C1302.4,1490.5 1302.5,1493.9 1303.6,1499.8 C1304.6,1505.8 1306.7,1510.3 1308.0,1517.7 C1309.4,1525.2 1310.4,1532.6 1311.6,1544.5 C1312.8,1556.5 1314.1,1577.5 1315.2,1589.2 C1316.3,1601.0 1317.4,1613.7 1318.4,1615.2 C1319.5,1616.7 1320.6,1615.9 1321.5,1598.2 C1322.3,1580.4 1322.6,1535.6 1323.2,1508.8 C1323.8,1482.0 1324.1,1453.2 1325.0,1437.3 C1325.9,1421.3 1327.4,1415.5 1328.6,1413.1 C1329.8,1410.8 1331.2,1413.0 1332.2,1423.0 C1333.1,1432.9 1333.7,1455.7 1334.3,1473.0 C1334.9,1490.3 1335.1,1514.0 1335.8,1526.7 C1336.4,1539.3 1336.8,1549.9 1338.4,1549.0 C1340.1,1548.1 1344.0,1524.1 1345.6,1521.3 C1347.2,1518.5 1347.4,1523.7 1348.3,1532.0 C1349.2,1540.4 1350.1,1557.4 1351.0,1571.4 C1351.8,1585.4 1352.7,1605.4 1353.3,1616.1 C1353.9,1626.7 1353.7,1620.1 1354.5,1635.0 C1355.3,1649.9 1356.8,1705.4 1358.1,1705.4 C1359.4,1705.4 1361.7,1649.9 1362.6,1635.0 C1363.4,1620.1 1362.9,1626.7 1363.1,1616.1 C1363.3,1605.4 1363.3,1580.9 1364.0,1571.4 C1364.7,1561.8 1365.9,1559.4 1367.0,1558.8 C1368.1,1558.2 1369.3,1563.2 1370.6,1567.8 C1371.9,1572.4 1373.4,1587.4 1374.7,1586.6 C1376.1,1585.7 1377.6,1572.4 1378.7,1562.4 C1379.8,1552.4 1380.3,1538.6 1381.3,1526.7 C1382.4,1514.7 1383.9,1502.8 1384.9,1490.9 C1386.0,1479.0 1386.6,1466.2 1387.6,1455.1 C1388.6,1444.1 1389.8,1433.1 1391.2,1424.8 C1392.5,1416.4 1393.9,1410.3 1395.6,1405.1 C1397.4,1399.9 1399.8,1393.3 1401.9,1393.5 C1404.0,1393.6 1406.2,1405.5 1408.2,1406.0 C1410.1,1406.4 1411.6,1398.7 1413.5,1396.2 C1415.5,1393.6 1416.7,1391.8 1419.8,1390.8 C1422.9,1389.7 1429.3,1390.5 1432.3,1389.9 C1435.3,1389.3 1436.3,1383.8 1437.7,1387.2 C1439.0,1390.6 1439.6,1402.7 1440.3,1410.5 C1441.1,1418.2 1441.4,1428.9 1442.1,1433.7 C1442.8,1438.5 1443.4,1440.0 1444.5,1439.4 C1445.5,1438.8 1447.3,1436.4 1448.4,1430.1 C1449.5,1423.8 1450.0,1409.6 1451.1,1401.5 C1452.1,1393.5 1453.5,1385.7 1454.6,1381.8 C1455.8,1378.0 1456.7,1378.3 1458.2,1378.6 C1459.7,1378.9 1461.9,1382.1 1463.6,1383.6 C1465.2,1385.2 1466.0,1388.0 1468.1,1388.1 C1470.1,1388.3 1474.0,1383.8 1476.1,1384.5 C1478.2,1385.3 1479.2,1386.8 1480.6,1392.6 C1481.9,1398.4 1483.1,1411.9 1484.1,1419.4 C1485.2,1426.8 1485.9,1433.7 1486.8,1437.3 C1487.7,1440.8 1488.3,1441.4 1489.5,1440.8 C1490.7,1440.3 1492.8,1438.8 1494.0,1433.7 C1495.2,1428.6 1495.9,1416.7 1496.7,1410.5 C1497.4,1404.2 1497.7,1398.9 1498.5,1396.2 C1499.2,1393.4 1500.1,1393.1 1501.1,1394.0 C1502.2,1394.9 1503.8,1397.9 1504.7,1401.5 C1505.6,1405.1 1505.5,1412.8 1506.5,1415.8 C1507.5,1418.8 1509.0,1419.4 1511.0,1419.4 C1512.9,1419.4 1515.4,1417.6 1518.1,1415.8 C1520.8,1414.0 1524.4,1411.3 1527.1,1408.7 C1529.7,1406.0 1531.8,1402.9 1534.2,1399.7 C1536.6,1396.6 1538.7,1392.4 1541.4,1389.9 C1544.0,1387.4 1547.3,1386.3 1550.3,1384.5 C1553.3,1382.7 1556.6,1380.8 1559.2,1379.2 C1561.9,1377.5 1564.3,1376.9 1566.4,1374.7 C1568.5,1372.5 1570.0,1369.0 1571.8,1365.8 C1573.5,1362.5 1575.6,1357.8 1577.1,1355.0 C1578.6,1352.3 1580.1,1350.3 1580.7,1349.3" fill="none" stroke="#000" stroke-width="10.5" stroke-linejoin="round" stroke-linecap="round"/></g>
<g fill="none" stroke="#000">
<path d="M184,39.3H1595.1" stroke-width="2.9"/>
<path d="M184,359.9H1595.1" stroke-width="2.2"/>
<path d="M1593.65,37.85V361" stroke-width="2.9"/>
<path d="M1592.55,359.9V1637" stroke-width="3.1"/>
<path d="M183.95,37.85V1637" stroke-width="3.9"/>
<path d="M178.6,1640H1598" stroke-width="10"/>
<path d="M184.0,1642V1648.4M385.2,1642V1648.4M586.4,1642V1648.4M787.6,1642V1648.4M988.8,1642V1648.4M1190.0,1642V1648.4M1391.2,1642V1648.4M1592.4,1642V1648.4" stroke-width="11" stroke-linecap="round"/>
<path d="M284.6,1642V1644.2M485.8,1642V1644.2M687.0,1642V1644.2M888.2,1642V1644.2M1089.4,1642V1644.2M1290.6,1642V1644.2M1491.8,1642V1644.2" stroke-width="10.4" stroke-linecap="round"/>
</g>
<text class="b" transform="translate(112.19,1706.37) scale(0.6759,0.7077)" stroke="#fff" stroke-width="0.22" stroke-linejoin="round" letter-spacing="-2.5">4000</text>
<text class="b" transform="translate(313.05,1706.37) scale(0.6759,0.7077)" stroke="#fff" stroke-width="0.22" stroke-linejoin="round" letter-spacing="-2.5">3500</text>
<text class="b" transform="translate(514.25,1706.37) scale(0.6759,0.7077)" stroke="#fff" stroke-width="0.22" stroke-linejoin="round" letter-spacing="-2.5">3000</text>
<text class="b" transform="translate(715.11,1706.37) scale(0.6759,0.7077)" stroke="#fff" stroke-width="0.22" stroke-linejoin="round" letter-spacing="-2.5">2500</text>
<text class="b" transform="translate(916.31,1706.37) scale(0.6759,0.7077)" stroke="#fff" stroke-width="0.22" stroke-linejoin="round" letter-spacing="-2.5">2000</text>
<clipPath id="k1"><path clip-rule="evenodd" d="M-50,-120H900V60H-50Z M3.00,-12H23.20V3H3.00Z M37.05,-12H55.00V3H37.05Z"/></clipPath><text class="b" transform="translate(1116.50,1706.37) scale(0.6759,0.7077)" stroke="#fff" stroke-width="0.22" stroke-linejoin="round" letter-spacing="-2.5" clip-path="url(#k1)">1500</text>
<clipPath id="k2"><path clip-rule="evenodd" d="M-50,-120H900V60H-50Z M3.00,-12H23.20V3H3.00Z M37.05,-12H55.00V3H37.05Z"/></clipPath><text class="b" transform="translate(1317.70,1706.37) scale(0.6759,0.7077)" stroke="#fff" stroke-width="0.22" stroke-linejoin="round" letter-spacing="-2.5" clip-path="url(#k2)">1000</text>
<text class="b" transform="translate(1537.99,1706.37) scale(0.6759,0.7077)" stroke="#fff" stroke-width="0.22" stroke-linejoin="round" letter-spacing="-2.5">500</text>
<text class="b" transform="translate(501.30,1780.34) scale(0.7413,0.7578)" letter-spacing="-2">Wavenumber <tspan font-size="89" dx="1.8">(</tspan><tspan dx="1.9">cm</tspan></text>
<text class="b" transform="translate(1093.44,1763.70) scale(0.6653,0.5429)" stroke="#000" stroke-width="0.66" stroke-linejoin="round">−</text>
<clipPath id="k3"><path clip-rule="evenodd" d="M-50,-120H900V60H-50Z M3.00,-12H23.20V3H3.00Z M37.05,-12H55.00V3H37.05Z"/></clipPath><text class="b" transform="translate(1130.16,1761.40) scale(0.6828,0.6891)" stroke="#000" stroke-width="0.58" stroke-linejoin="round" clip-path="url(#k3)">1</text>
<text class="b" transform="translate(1185.18,1779.51) scale(0.6321,0.6871)" stroke="#000" stroke-width="0.61" stroke-linejoin="round">)</text>
<text class="b" transform="translate(105.1,1232.5) rotate(-90) scale(0.8500,0.8620)" style="font-kerning:none" letter-spacing="1.95">Transmitance (a.u.)</text>
<text class="b" transform="translate(234.56,173.28) scale(0.5754,0.6225)" stroke="#000" stroke-width="1.00" stroke-linejoin="round">30 wt.%</text>
<text class="b" transform="translate(213.00,497.69) scale(0.5706,0.6099)" stroke="#000" stroke-width="1.02" stroke-linejoin="round">22.5 wt. %</text>
<clipPath id="k4"><path clip-rule="evenodd" d="M-50,-120H900V60H-50Z M3.00,-12H23.20V3H3.00Z M37.05,-12H55.00V3H37.05Z"/></clipPath><text class="b" transform="translate(230.73,803.96) scale(0.5958,0.6417)" stroke="#000" stroke-width="0.97" stroke-linejoin="round" clip-path="url(#k4)">15 wt. %</text>
<text class="b" transform="translate(239.66,1130.77) scale(0.5858,0.6273)" stroke="#000" stroke-width="0.99" stroke-linejoin="round">7.5 wt. %</text>
<text class="b" transform="translate(239.96,1438.07) scale(0.5859,0.6338)" stroke="#000" stroke-width="0.98" stroke-linejoin="round">0 wt. %</text>
<text class="b" transform="translate(525.77,283.72) scale(0.4922,0.5282)" letter-spacing="-1.5">3400</text>
<text transform="translate(1425.60,309.07) scale(0.5106,0.5254)" stroke="#000" stroke-width="0.39" stroke-linejoin="round" letter-spacing="-1">872</text>
<text class="b" transform="translate(1406.75,639.87) scale(0.4847,0.5282)" letter-spacing="-1.5">804</text>
<text class="b" transform="translate(1500.62,596.07) scale(0.5061,0.5282)" letter-spacing="-1.5">756</text>
<clipPath id="k5"><path clip-rule="evenodd" d="M-50,-120H900V60H-50Z M3.00,-12H23.20V3H3.00Z M37.05,-12H55.00V3H37.05Z"/></clipPath><text class="b" transform="translate(1113.30,873.67) scale(0.4926,0.5282)" letter-spacing="-1.5" clip-path="url(#k5)">1605</text>
<text class="b" transform="translate(405.46,969.72) scale(0.4960,0.5282)" letter-spacing="-1.5">2920</text>
<text class="b" transform="translate(715.80,977.32) scale(0.4870,0.5282)" letter-spacing="-1.5">2848</text>
<text class="b" transform="translate(481.87,1538.27) scale(0.4950,0.5282)" letter-spacing="-1.5">2922</text>
<text class="b" transform="translate(694.79,1545.87) scale(0.4877,0.5282)" letter-spacing="-1.5">2846</text>
<clipPath id="k6"><path clip-rule="evenodd" d="M-50,-120H900V60H-50Z M3.00,-12H23.20V3H3.00Z M37.05,-12H55.00V3H37.05Z"/></clipPath><text class="b" transform="translate(822.93,1584.02) scale(0.4872,0.5282)" letter-spacing="-1.5" clip-path="url(#k6)">1750</text>
<clipPath id="k7"><path clip-rule="evenodd" d="M-50,-120H900V60H-50Z M3.00,-12H23.20V3H3.00Z M37.05,-12H55.00V3H37.05Z"/></clipPath><text class="b" transform="translate(1148.08,1559.07) scale(0.4957,0.5282)" letter-spacing="-1.5" clip-path="url(#k7)">1456</text>
<clipPath id="k8"><path clip-rule="evenodd" d="M-50,-120H900V60H-50Z M3.00,-12H23.20V3H3.00Z M37.05,-12H71.79V3H37.05Z M85.64,-12H103.59V3H85.64Z M159.83,-12H180.03V3H159.83Z M193.88,-12H211.83V3H193.88Z"/></clipPath><text class="b" transform="translate(1146.24,1615.82) scale(0.5165,0.5282)" letter-spacing="-1.5" clip-path="url(#k8)">1181</text>
<clipPath id="k9"><path clip-rule="evenodd" d="M-50,-120H900V60H-50Z M3.00,-12H23.20V3H3.00Z M37.05,-12H55.00V3H37.05Z"/></clipPath><text class="b" transform="translate(1466.72,1561.87) scale(0.4899,0.5282)" letter-spacing="-1.5" clip-path="url(#k9)">1083</text>
<path d="M436.7,91.4L438.9,93.8M453.6,108.8L455.6,111.2M470.1,128.3L472.3,130.7M487.8,148.0L490.0,150.4M505.1,166.9L507.1,169.3M521.6,186.0L523.8,188.4M539.4,205.2L541.4,207.6M555.7,224.1L557.7,226.5" fill="none" stroke="#000" stroke-width="4.8" stroke-linecap="round"/>
<path d="M1444.7,178.4L1445.3,181.6M1448.2,198.4L1448.8,201.6M1451.8,217.9L1452.2,221.1M1454.8,237.4L1455.2,240.6M1456.8,255.4L1457.2,258.6" fill="none" stroke="#000" stroke-width="4.8" stroke-linecap="round"/>
<path d="M1468.0,502.5L1467.0,505.5M1461.6,521.5L1460.4,524.5M1454.0,541.5L1453.0,544.5M1447.1,561.0L1445.9,564.0M1439.6,580.5L1438.4,583.5" fill="none" stroke="#000" stroke-width="4.8" stroke-linecap="round"/>
<path d="M1495.9,497.8L1498.1,500.2M1513.4,517.3L1515.6,519.7M1530.9,536.8L1533.1,539.2" fill="none" stroke="#000" stroke-width="4.8" stroke-linecap="round"/>
<path d="M1148.8,747.4L1149.2,750.6M1150.8,766.9L1151.2,770.1M1153.3,785.9L1153.7,789.1M1155.3,805.4L1155.7,808.6M1157.8,824.4L1158.2,827.6" fill="none" stroke="#000" stroke-width="4.8" stroke-linecap="round"/>
<path d="M543.0,940.6L546.0,939.6M562.3,934.6L565.5,934.0M581.5,930.5L584.7,929.7M600.9,925.6L604.1,924.8" fill="none" stroke="#000" stroke-width="4.8" stroke-linecap="round"/>
<path d="M652.3,907.2L655.1,908.8M670.4,917.7L673.2,919.5M689.8,930.0L692.6,931.8" fill="none" stroke="#000" stroke-width="4.8" stroke-linecap="round"/>
<path d="M601.3,1414.7L599.5,1417.3M587.4,1434.3L585.4,1436.7M571.4,1453.5L569.4,1456.1M556.5,1473.1L554.5,1475.7" fill="none" stroke="#000" stroke-width="4.8" stroke-linecap="round"/>
<path d="M657.2,1395.6L658.4,1398.6M665.4,1414.8L666.6,1417.8M673.2,1434.3L674.4,1437.3M680.5,1453.3L681.9,1456.3M689.3,1472.5L690.5,1475.5M697.4,1492.4L698.6,1495.4" fill="none" stroke="#000" stroke-width="4.8" stroke-linecap="round"/>
<path d="M956.2,1572.2L959.2,1573.2M976.4,1579.4L979.4,1580.4M996.3,1586.3L999.3,1587.3M1016.1,1592.4L1019.1,1593.4M1036.3,1598.5L1039.3,1599.5M1055.4,1604.6L1058.4,1605.6M1074.5,1611.1L1077.5,1612.1" fill="none" stroke="#000" stroke-width="4.8" stroke-linecap="round"/>
<path d="M1204.8,1465.2L1204.2,1468.4M1201.7,1484.4L1201.1,1487.6M1198.0,1504.2L1197.4,1507.4" fill="none" stroke="#000" stroke-width="4.8" stroke-linecap="round"/>
<path d="M1248.2,1599.5L1251.4,1600.1M1266.9,1602.7L1270.1,1603.3M1286.4,1606.6L1289.6,1607.2M1306.0,1610.9L1309.2,1611.5" fill="none" stroke="#000" stroke-width="4.8" stroke-linecap="round"/>
<path d="M1478.5,1585.1L1475.5,1586.3M1459.2,1592.3L1456.2,1593.3M1440.1,1599.0L1437.1,1600.2M1420.9,1606.5L1417.9,1607.7M1401.6,1614.0L1398.6,1615.2M1382.3,1621.7L1379.3,1622.9" fill="none" stroke="#000" stroke-width="4.8" stroke-linecap="round"/>
</svg></body></html>
